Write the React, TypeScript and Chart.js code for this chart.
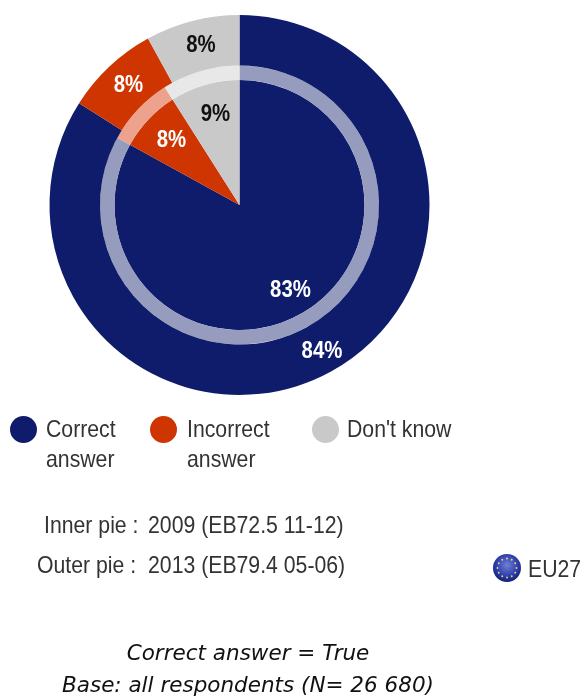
import React, { useEffect, useRef } from "react";
import { Chart, registerables } from "chart.js";

Chart.register(...registerables);

const categories = ["Correct answer", "Incorrect answer", "Don't know"];
const outer2013 = [84, 8, 8];
const inner2009 = [83, 8, 9];
const colours = ["#0F1C6B", "#CE3500", "#C9C9C9"];
const ringColours = ["#959CBE", "#EDA28E", "#E8E8E8"];

const SANS = '"Liberation Sans", Arial, sans-serif';

const labelOffsets = [
  { ds: 0, i: 0, dx: 82.5, dy: 146, color: "#fff" },
  { ds: 0, i: 1, dx: -111, dy: -120, color: "#fff" },
  { ds: 0, i: 2, dx: -38.5, dy: -160, color: "#111" },
  { ds: 2, i: 0, dx: 51, dy: 85, color: "#fff" },
  { ds: 2, i: 1, dx: -68, dy: -65, color: "#fff" },
  { ds: 2, i: 2, dx: -24, dy: -91, color: "#111" },
];

const pieLabels = {
  id: "pieLabels",
  afterDraw(chart: any) {
    const { ctx } = chart;
    const a = chart.getDatasetMeta(0).data[0];
    for (const l of labelOffsets) {
      ctx.save();
      ctx.font = `bold 24px ${SANS}`;
      ctx.textAlign = "center";
      ctx.textBaseline = "middle";
      ctx.fillStyle = l.color;
      ctx.translate(a.x + l.dx, a.y + l.dy);
      ctx.scale(0.85, 1);
      ctx.fillText(`${chart.data.datasets[l.ds].data[l.i]}%`, 0, 0);
      ctx.restore();
    }
  },
};

function T(p: { x: number; base: number; children: React.ReactNode }) {
  return (
    <div
      style={{
        position: "absolute",
        left: p.x,
        top: p.base - 25,
        lineHeight: "32px",
        whiteSpace: "pre",
        fontFamily: SANS,
        fontSize: 24,
        color: "#333",
        transform: "scaleX(0.885)",
        transformOrigin: "left center",
      }}
    >
      {p.children}
    </div>
  );
}

function Dot(p: { cx: number; cy: number; color: string }) {
  return (
    <div
      style={{
        position: "absolute",
        left: p.cx - 13.5,
        top: p.cy - 13.5,
        width: 27,
        height: 27,
        borderRadius: "50%",
        background: p.color,
      }}
    />
  );
}

const stars = Array.from({ length: 12 }, (_, k) => k);

export default function App() {
  const ref = useRef<HTMLCanvasElement>(null);
  useEffect(() => {
    const chart = new Chart(ref.current!, {
      type: "doughnut",
      data: {
        labels: categories,
        datasets: [
          { label: "2013", data: outer2013, backgroundColor: colours, borderWidth: 0, weight: 50.5 },
          { label: "ring", data: inner2009, backgroundColor: ringColours, borderWidth: 0, weight: 14.5 },
          { label: "2009", data: inner2009, backgroundColor: colours, borderWidth: 0, weight: 125 },
        ],
      },
      options: {
        animation: false,
        responsive: false,
        cutout: 0,
        events: [],
        layout: { padding: { left: 49.5, right: 151.5, top: 15, bottom: 301 } },
        plugins: { legend: { display: false }, tooltip: { enabled: false } },
      } as any,
      plugins: [pieLabels],
    });
    return () => chart.destroy();
  }, []);

  return (
    <div style={{ position: "absolute", left: 0, top: 0, width: 581, height: 696, overflow: "hidden", background: "#fff" }}>
      <canvas ref={ref} width={581} height={696} style={{ position: "absolute", left: 0, top: 0 }} />

      <Dot cx={23.5} cy={429} color={colours[0]} />
      <T x={46} base={437.5}>Correct</T>
      <T x={46} base={467.5}>answer</T>
      <Dot cx={163.5} cy={429} color={colours[1]} />
      <T x={187} base={437.5}>Incorrect</T>
      <T x={187} base={467.5}>answer</T>
      <Dot cx={325} cy={429} color={colours[2]} />
      <T x={347} base={437.5}>Don't know</T>

      <T x={44} base={534}>Inner pie :</T>
      <T x={148} base={534}>2009 (EB72.5 11-12)</T>
      <T x={37} base={574}>Outer pie :</T>
      <T x={148} base={574}>2013 (EB79.4 05-06)</T>

      <svg width={30} height={32} style={{ position: "absolute", left: 492, top: 552 }}>
        <defs>
          <radialGradient id="eu" cx="50%" cy="40%" r="60%">
            <stop offset="0%" stopColor="#6F7FD8" />
            <stop offset="70%" stopColor="#2A3AA6" />
            <stop offset="100%" stopColor="#14206E" />
          </radialGradient>
        </defs>
        <circle cx={15} cy={16} r={14} fill="url(#eu)" />
        {stars.map((k) => (
          <circle
            key={k}
            cx={15 + 9.5 * Math.cos((k * Math.PI) / 6)}
            cy={16 + 9.5 * Math.sin((k * Math.PI) / 6)}
            r={0.9}
            fill="#E8DE80"
          />
        ))}
      </svg>
      <T x={528} base={578}>EU27</T>

      <div
        style={{
          position: "absolute",
          left: 0,
          width: 496,
          top: 637,
          textAlign: "center",
          fontFamily: '"DejaVu Sans", Verdana, sans-serif',
          fontStyle: "italic",
          fontSize: 21.5,
          lineHeight: "32px",
          color: "#111",
        }}
      >
        Correct answer = True
        <br />
        Base: all respondents (N= 26 680)
      </div>
    </div>
  );
}
